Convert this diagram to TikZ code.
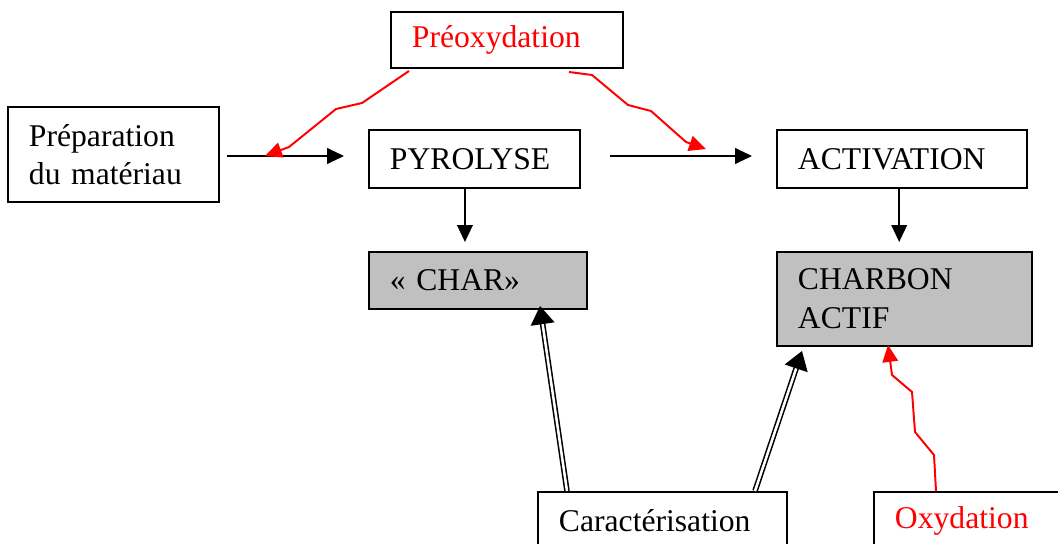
\documentclass[tikz,border=0pt]{standalone}
\usepackage{fontspec}
\setmainfont{Liberation Serif}
\usepackage{tikz}
\usetikzlibrary{arrows.meta, calc}
\definecolor{boxgray}{RGB}{192,192,192}
\tikzset{
  box/.style={draw, line width=1.4pt, inner xsep=0.525cm, align=left, fill=white},
  grisbox/.style={box, fill=boxgray},
  arr/.style={line width=1.4pt, -{Triangle[length=12pt, width=11pt]}},
  redarr/.style={red, line width=1.4pt, -{Triangle[length=12pt, width=11pt]}},
  dblarr/.style={line width=1.1pt, double, double distance=1.8pt, -{Triangle[length=13pt, width=17pt]}}
}

\begin{document}
\begin{tikzpicture}[x=0.025cm, y=-0.025cm, font=\fontsize{22.5}{27.5}\selectfont]
  \useasboundingbox (0,0) rectangle (1058,544);
  \node[box, text width=4.225cm, minimum height=2.375cm] (prep) at (113.5,154.5) {Préparation\\du matériau};
  \node[box, text width=4.75cm, minimum height=1.4cm, text=red] (preox) at (507,40) {Préoxydation};
  \node[box, text width=4.225cm, minimum height=1.45cm] (pyro) at (474.5,159) {PYROLYSE};
  \node[box, text width=5.2cm, minimum height=1.45cm] (activ) at (902,159) {ACTIVATION};
  \node[grisbox, text width=4.4cm, minimum height=1.425cm] (char) at (478,280.5) {« CHAR»};
  \node[grisbox, text width=5.325cm, minimum height=2.35cm] (charbon) at (904.5,299) {CHARBON\\ACTIF};
  \node[box, text width=5.175cm, minimum height=1.45cm] (caract) at (662.5,521) {Caractérisation};
  \node[box, text width=4.75cm, minimum height=1.45cm, text=red] (oxyd) at (990,521) {Oxydation};
  \coordinate (hitL) at (265,156);
  \coordinate (hitR) at (706,149);
  \coordinate (hitO) at (888,345);
  \draw[arr, shorten <=5pt, shorten >=17pt] (prep.east |- hitL) -- (pyro.west |- hitL);
  \draw[arr, shorten <=20.6pt, shorten >=17pt] (pyro.east |- hitL) -- (activ.west |- hitL);
  \draw[arr, shorten >=6.4pt] ([xshift=-6.8pt]pyro.south) -- ([xshift=-6.8pt]pyro.south |- char.north);
  \draw[arr, shorten >=6.4pt] ([xshift=-2pt]activ.south) -- ([xshift=-2pt]activ.south |- charbon.north);
  \draw[redarr] ($(preox.south west)+(19,2)$) -- (362,103) -- (336,109) -- (289,147) -- (hitL);
  \draw[redarr] ($(preox.south east)+(-55,3)$) -- (592,75) -- (628,105) -- (651,111) -- (686,142) -- (hitR);
  \draw[redarr] ($(oxyd.north west)+(63,0)$) -- (934,455) -- (915,432) -- (912,392) -- (892,375) -- (hitO);
  \draw[dblarr] ($(caract.north west)+(30,0)$) -- ($(char.south west)+(172,-4)$);
  \draw[dblarr] ($(caract.north east)+(-33,0)$) -- ($(charbon.south west)+(26,4)$);
\end{tikzpicture}
\end{document}
